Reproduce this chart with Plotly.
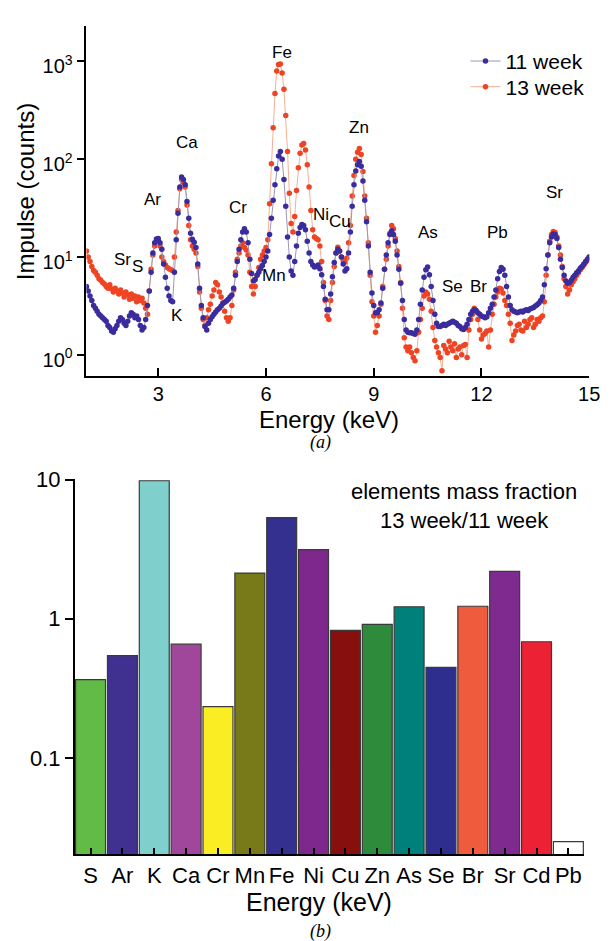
import plotly.graph_objects as go
import math

# ---------------- data: XRF spectra (counts), energy grid 1.00 .. 15.00 keV, step 0.05 ----------------
energy_keV = [round(1.0 + 0.05 * i, 2) for i in range(281)]

counts_11_week = [
    5.0, 4.5, 4.0, 3.6, 3.2, 3.0, 2.8, 2.6, 2.5, 2.4, 2.3, 2.2, 2.0, 1.9, 1.75, 1.7, 1.85, 2.0, 2.2, 2.4, 2.3,
    2.1, 2.0, 2.2, 2.5, 2.7, 2.6, 2.4, 2.5, 2.3, 2.0, 1.8, 1.9, 2.3, 3.2, 4.5, 7.0, 11.0, 14.0, 15.3, 15.5,
    14.0, 12.0, 8.5, 6.2, 4.8, 4.0, 3.6, 3.5, 7.0, 15.0, 28.0, 52.0, 66.0, 62.0, 55.0, 37.0, 25.0, 17.5, 15.2, 14.2,
    12.5, 8.5, 4.8, 3.2, 2.4, 1.95, 1.8, 2.1, 2.3, 2.45, 2.6, 2.75, 2.9, 3.0, 3.15, 3.35, 3.45, 3.55, 3.7, 3.9,
    4.1, 4.8, 6.5, 9.0, 12.0, 15.0, 18.0, 19.5, 18.0, 14.0, 9.5, 6.8, 5.7, 5.9, 6.5, 7.0, 7.6, 8.2, 9.0, 10.0,
    11.5, 17.0, 25.0, 38.0, 55.0, 80.0, 108.0, 120.0, 100.0, 62.0, 33.0, 16.0, 10.0, 7.2, 6.5, 9.0, 13.0, 17.5, 20.0, 21.5,
    21.0, 19.0, 14.5, 11.0, 9.0, 8.3, 7.9, 8.0, 8.3, 7.6, 6.6, 5.0, 3.7, 2.9, 2.9, 4.2, 6.3, 8.8, 11.0, 12.0,
    11.5, 10.0, 8.5, 7.2, 7.6, 11.0, 18.0, 33.0, 55.0, 76.0, 88.0, 95.0, 85.0, 60.0, 38.0, 23.0, 13.0, 7.0, 4.3, 3.2,
    2.7, 2.7, 2.9, 3.4, 4.8, 7.5, 10.5, 14.0, 17.0, 18.6, 17.0, 14.5, 10.5, 7.5, 5.4, 3.6, 2.3, 1.8, 1.7, 1.68,
    1.68, 1.65, 1.62, 1.8, 2.3, 3.3, 4.6, 6.2, 7.4, 7.9, 6.6, 5.0, 3.6, 2.6, 2.1, 1.95, 1.95, 2.0, 2.05, 2.0,
    2.05, 2.1, 2.15, 2.2, 2.15, 2.1, 2.0, 1.95, 1.85, 1.82, 1.9, 2.05, 2.3, 2.6, 2.8, 2.9, 2.85, 2.7, 2.6, 2.5,
    2.45, 2.4, 2.45, 2.7, 3.0, 3.3, 3.9, 4.6, 6.0, 7.1, 7.8, 7.5, 6.5, 5.0, 3.9, 3.2, 2.9, 2.8, 2.75, 2.7,
    2.75, 2.8, 2.75, 2.85, 2.9, 2.85, 2.95, 3.0, 3.05, 3.15, 3.25, 3.4, 3.6, 3.9, 5.2, 7.6, 10.5, 14.0, 16.0, 17.2,
    17.0, 15.5, 12.5, 9.5, 7.8, 6.5, 5.7, 5.4, 5.5, 5.8, 6.2, 6.5, 6.9, 7.2, 7.7, 8.0, 8.5, 9.0, 9.5, 10.0,
]

counts_13_week = [
    11.5, 10.0, 9.0, 8.0, 7.3, 7.0, 6.5, 6.0, 5.8, 5.5, 5.3, 5.0, 4.8, 5.2, 4.7, 4.4, 4.8, 4.5, 4.2, 4.6, 4.3,
    3.9, 4.4, 4.1, 3.7, 4.2, 3.8, 4.0, 3.5, 3.9, 3.6, 3.8, 3.4, 3.0, 2.6, 4.5, 7.5, 10.5, 13.0, 14.5, 14.8,
    13.0, 10.0, 9.0, 8.3, 7.8, 7.6, 7.4, 7.3, 10.0, 18.0, 30.0, 50.0, 62.0, 58.0, 52.0, 34.0, 21.0, 15.0, 13.0, 12.0,
    11.0, 8.0, 4.4, 3.0, 2.3, 2.0, 2.4, 2.9, 3.3, 4.0, 4.6, 5.5, 5.2, 4.4, 3.9, 3.4, 2.8, 2.4, 2.2, 2.4,
    3.2, 4.6, 7.0, 9.5, 11.0, 13.0, 14.0, 12.5, 11.8, 10.5, 7.0, 5.0, 4.2, 5.0, 6.5, 7.8, 9.5, 10.5, 11.5, 12.5,
    15.0, 35.0, 90.0, 210.0, 470.0, 800.0, 930.0, 940.0, 760.0, 520.0, 280.0, 120.0, 45.0, 22.0, 18.0, 26.0, 48.0, 82.0, 115.0, 140.0,
    145.0, 124.0, 88.0, 52.0, 30.0, 19.0, 16.0, 15.5, 15.0, 13.0, 9.0, 5.5, 3.6, 2.5, 2.3, 3.6, 5.5, 8.0, 11.0, 12.6,
    11.5, 10.0, 9.3, 8.9, 9.8, 14.0, 21.0, 42.0, 68.0, 100.0, 118.0, 129.0, 112.0, 75.0, 42.0, 25.0, 14.0, 6.5, 3.5, 2.5,
    1.7, 2.0, 2.5, 3.3, 5.0, 7.5, 9.5, 13.0, 17.5, 21.0, 19.5, 15.5, 11.5, 8.0, 5.5, 3.0, 1.5, 1.2, 1.1, 1.2,
    1.05, 0.94, 0.87, 1.1, 1.7, 2.3, 3.0, 4.0, 4.4, 4.2, 3.7, 2.8, 1.9, 1.4, 1.2, 1.05, 0.94, 0.69, 1.25, 1.15,
    1.05, 1.38, 1.2, 1.1, 1.3, 0.94, 1.15, 1.2, 1.0, 1.25, 1.28, 0.94, 1.8, 2.3, 2.6, 3.0, 2.8, 2.3, 1.8, 1.45,
    1.6, 1.65, 1.75, 1.2, 1.8, 2.6, 3.3, 3.9, 4.4, 4.8, 4.7, 4.3, 3.6, 3.2, 2.6, 2.1, 1.4, 1.6, 1.75, 2.0,
    2.05, 1.8, 1.75, 2.2, 1.9, 2.05, 2.3, 2.4, 1.9, 2.05, 2.3, 2.2, 2.4, 2.5, 3.5, 6.5, 10.5, 14.5, 17.0, 18.2,
    17.8, 16.0, 13.0, 10.5, 8.0, 6.0, 5.0, 4.2, 4.6, 5.2, 5.6, 6.0, 6.5, 6.9, 7.4, 7.8, 8.3, 8.8, 9.3, 10.0,
]
assert len(counts_11_week) == len(energy_keV) == len(counts_13_week)

# peak labels (element, energy keV, counts where label sits)
peak_labels = ["Fe", "Ca", "Zn", "Ar", "Cr", "Sr", "Ni", "Cu", "Sr", "S", "K", "Mn", "As", "Pb", "Se", "Br"]
peak_label_x = [6.44, 3.79, 8.60, 2.83, 5.21, 14.04, 7.54, 8.05, 2.01, 2.41, 3.53, 6.22, 10.50, 12.46, 11.20, 11.92]
peak_label_y = [1240, 150, 209, 38.5, 32.2, 46, 27.2, 23.3, 9.5, 8.1, 2.5, 6.5, 18.0, 18.0, 5.05, 5.05]

x_ticks_top = [3, 6, 9, 12, 15]
y_ticks_top = [1, 10, 100, 1000]
y_ticktext_top = ["10<sup>0</sup>", "10<sup>1</sup>", "10<sup>2</sup>", "10<sup>3</sup>"]

# ---------------- data: mass fraction ratio 13 week / 11 week ----------------
elements = ["S", "Ar", "K", "Ca", "Cr", "Mn", "Fe", "Ni", "Cu", "Zn", "As", "Se", "Br", "Sr", "Cd", "Pb"]
ratio_13_11 = [0.365, 0.543, 9.8, 0.657, 0.234, 2.13, 5.32, 3.14, 0.826, 0.911, 1.22, 0.447, 1.23, 2.19, 0.684, 0.0251]
bar_colors = ["#63bb47", "#40308f", "#7fd0cc", "#a0479b", "#fbed24", "#787a1a", "#33308f", "#7e288e",
              "#87100f", "#2e8b3c", "#00807a", "#2e2e8e", "#ef5b3d", "#7f2a8e", "#ec2234", "#ffffff"]
y_ticks_bottom = [0.1, 1, 10]
y_ticktext_bottom = ["0.1", "1", "10"]

FONT = "Liberation Sans, Arial, sans-serif"
W, H = 612, 941


def px_x(p):
    return p / W


def px_y(p):
    return 1 - p / H


fig = go.Figure()

fig.add_trace(go.Scatter(
    x=energy_keV, y=counts_13_week, mode="lines+markers", name="13 week", legend="legend2",
    line=dict(color="#f5b094", width=1), marker=dict(color="#ef4423", size=5.5),
    xaxis="x", yaxis="y"))
fig.add_trace(go.Scatter(
    x=energy_keV, y=counts_11_week, mode="lines+markers", name="11 week", legend="legend",
    line=dict(color="#9a97b6", width=1), marker=dict(color="#3a2c9c", size=5.5),
    xaxis="x", yaxis="y"))

fig.add_trace(go.Bar(
    x=elements, y=ratio_13_11, marker=dict(color=bar_colors, line=dict(color="#3a3a3a", width=1.2)),
    showlegend=False, xaxis="x2", yaxis="y2"))

annotations = []
for name, ex, ey in zip(peak_labels, peak_label_x, peak_label_y):
    annotations.append(dict(x=ex, y=math.log10(ey), xref="x", yref="y", text=name, showarrow=False,
                            xanchor="center", yanchor="middle",
                            font=dict(family=FONT, size=17, color="black")))


def paper_text(xp, yp, text, size, family=FONT, angle=0):
    return dict(x=px_x(xp), y=px_y(yp), xref="paper", yref="paper", text=text, textangle=angle,
                xanchor="center", yanchor="middle", showarrow=False,
                font=dict(family=family, size=size, color="black"))


annotations += [
    paper_text(26, 182, "Impulse (counts)", 24, angle=-90),
    paper_text(335, 413, "Energy (keV)", 24),
    paper_text(326, 436, "<i>(a)</i>", 18, family="Liberation Serif, serif"),
    paper_text(472, 500, "elements mass fraction<br>13 week/11 week", 22),
    paper_text(325, 902, "Energy (keV)", 25),
    paper_text(326, 931, "<i>(b)</i>", 18, family="Liberation Serif, serif"),
]

axis_common = dict(showline=True, linecolor="black", linewidth=1.5, showgrid=False, zeroline=False,
                   tickcolor="black", tickwidth=1.5)
legend_common = dict(xanchor="left", yanchor="middle", bgcolor="rgba(0,0,0,0)",
                     font=dict(family=FONT, size=21, color="black"), itemclick=False, itemdoubleclick=False)

fig.update_layout(
    width=W, height=H, margin=dict(l=0, r=0, t=0, b=0),
    paper_bgcolor="white", plot_bgcolor="white",
    font=dict(family=FONT, color="black"),
    showlegend=True,
    legend=dict(x=px_x(474), y=px_y(50), **legend_common),
    legend2=dict(x=px_x(474), y=px_y(76), **legend_common),
    bargap=0.06,
    annotations=annotations,
    xaxis=dict(domain=[px_x(88), px_x(600)], anchor="y", range=[1, 15], tickvals=x_ticks_top,
               ticks="inside", ticklen=8, tickfont=dict(family=FONT, size=20, color="black"), **axis_common),
    yaxis=dict(domain=[px_y(368.3), px_y(14)], anchor="x", type="log", range=[-0.212, 3.364],
               tickvals=y_ticks_top, ticktext=y_ticktext_top, ticks="outside", ticklen=8, ticklabelshift=5,
               tickfont=dict(family=FONT, size=20, color="black"), **axis_common),
    xaxis2=dict(domain=[px_x(76), px_x(595)], anchor="y2", type="category", range=[-0.5, 15.5],
                ticks="inside", ticklen=7, tickfont=dict(family=FONT, size=22, color="black"), **axis_common),
    yaxis2=dict(domain=[px_y(853.3), px_y(473)], anchor="x2", type="log",
                range=[math.log10(0.0203), 1.004], tickvals=y_ticks_bottom, ticktext=y_ticktext_bottom,
                ticks="outside", ticklen=8, tickfont=dict(family=FONT, size=22, color="black"), **axis_common),
)

fig.write_html("out.html")
